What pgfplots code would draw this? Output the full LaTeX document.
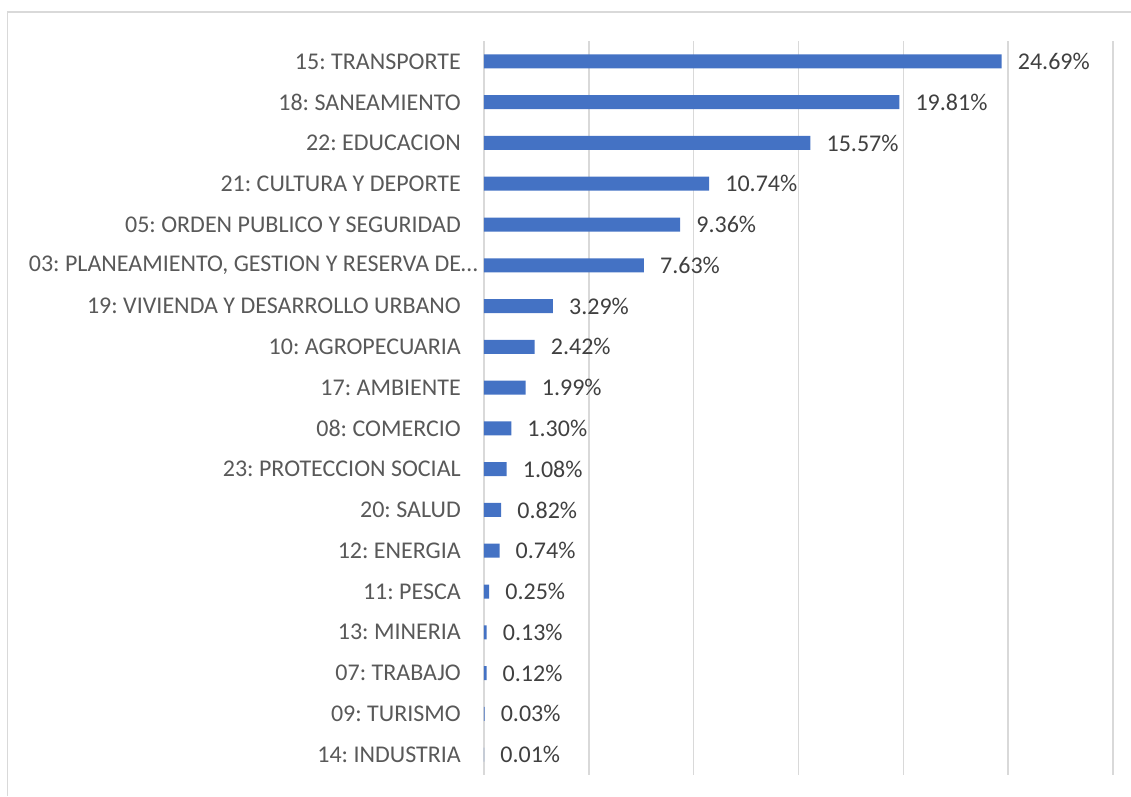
\documentclass[border=0pt]{standalone}
\usepackage{pgfplots}
\pgfplotsset{compat=1.18}
\usepackage{fontspec}
\setmainfont{Carlito}
\frenchspacing
\definecolor{gridgray}{HTML}{D9D9D9}
\definecolor{barblue}{HTML}{4472C4}
\definecolor{labgray}{HTML}{595959}
\definecolor{valgray}{HTML}{404040}
\begin{document}
\begin{tikzpicture}[x=1pt,y=1pt]
\begin{axis}[
  name=ax,
  at={(0pt,0pt)}, anchor=south west,
  scale only axis, width=629pt, height=734pt,
  xbar, bar width=14pt,
  xmin=0, xmax=30, ymin=-0.5, ymax=17.5, y dir=reverse,
  xtick={0,5,...,30}, xticklabels={},
  ytick={0,...,17},
  yticklabels={15: TRANSPORTE, 18: SANEAMIENTO, 22: EDUCACION, 21: CULTURA Y DEPORTE, 05: ORDEN PUBLICO Y SEGURIDAD, {03: PLANEAMIENTO, GESTION Y RESERVA DE…\hspace*{-17pt}}, 19: VIVIENDA Y DESARROLLO URBANO, 10: AGROPECUARIA, 17: AMBIENTE, 08: COMERCIO, 23: PROTECCION SOCIAL, 20: SALUD, 12: ENERGIA, 11: PESCA, 13: MINERIA, 07: TRABAJO, 09: TURISMO, 14: INDUSTRIA},
  xmajorgrids, grid style={draw=gridgray, line width=1.5pt},
  axis line style={draw=none}, major tick length=0pt,
  tick style={draw=none},
  yticklabel style={font=\fontsize{24}{29}\selectfont, text=labgray, inner sep=0pt, xshift=-23pt},
  clip=false,
  nodes near coords={\pgfmathprintnumber[fixed,fixed zerofill,precision=2,assume math mode=true]{\pgfplotspointmeta}\%},
  point meta=x,
  every node near coord/.append style={anchor=west, xshift=16pt, inner sep=0pt, font=\fontsize{24}{29}\selectfont, text=valgray},
]
\addplot[draw=none, fill=barblue] coordinates {
(24.69,0) (19.81,1) (15.57,2) (10.74,3) (9.36,4) (7.63,5) (3.29,6) (2.42,7) (1.99,8) (1.30,9) (1.08,10) (0.82,11) (0.74,12) (0.25,13) (0.13,14) (0.12,15) (0.03,16) (0.01,17)
};
\end{axis}
\draw[gridgray, line width=1.5pt] ([xshift=-476.5pt,yshift=-21pt]ax.south west) -- ([xshift=-476.5pt,yshift=29pt]ax.north west) -- ([xshift=18pt,yshift=29pt]ax.north east);
\pgfresetboundingbox
\path[use as bounding box] ([xshift=-484pt,yshift=-21pt]ax.south west) rectangle ([xshift=18pt,yshift=41pt]ax.north east);
\end{tikzpicture}
\end{document}
